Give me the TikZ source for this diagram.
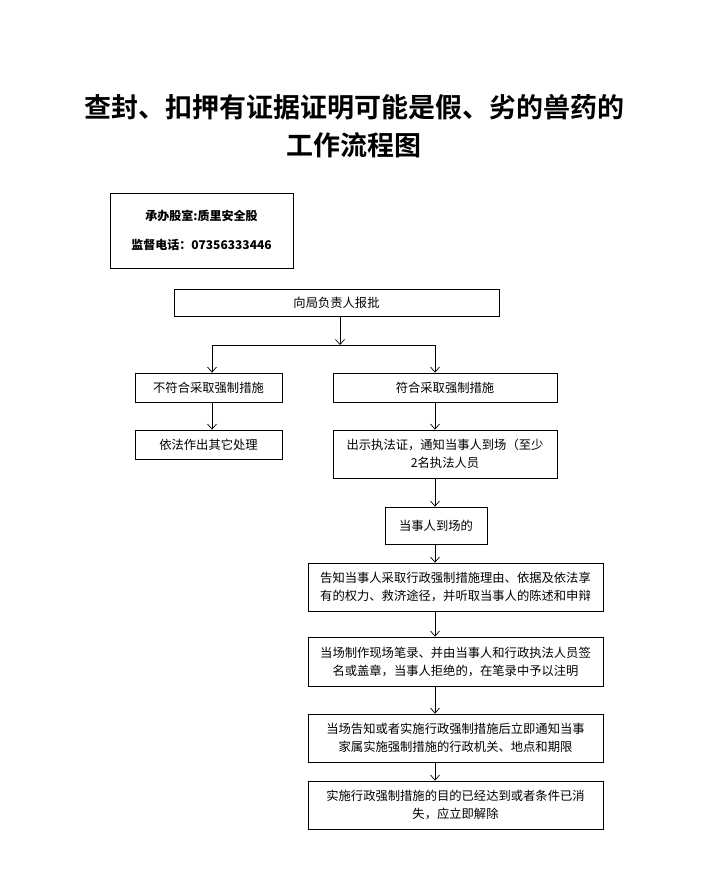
\documentclass[tikz,border=0pt]{standalone}
\usepackage{fontspec}
\setmainfont{Noto Sans CJK SC}
\newfontfamily\titlefont{Noto Sans CJK SC Bold}
\usetikzlibrary{arrows.meta}
\tikzset{
  stepbox/.style={draw, line width=0.8pt, rectangle, minimum height=29pt, align=center, font=\fontsize{12.3}{18}\selectfont, inner sep=1pt},
  arr/.style={line width=0.7pt, -{Straight Barb[length=5pt,width=9pt]}}
}
\begin{document}
\begin{tikzpicture}[x=1pt, y=-1pt]
				\useasboundingbox[fill=white] (0,0) rectangle (724,888);
				\node[font=\titlefont\fontsize{27}{30}\selectfont] (T1)at(354, 107) {查封、扣押有证据证明可能是假、劣的兽药的};
				\node[font=\titlefont\fontsize{27}{30}\selectfont] (T2)at(354, 145) {工作流程图};
				\node[stepbox, minimum width=183pt, minimum height=75pt, font=\bfseries\fontsize{12}{29}\selectfont] (I)at(201.5, 230.5) {承办股室:质里安全股\\监督电话：07356333446};
				\node[stepbox, minimum width=325pt, minimum height=27pt] (R)at(336.5, 302.5) {向局负责人报批};
				\node[stepbox, minimum width=147pt] (L1)at(208.5, 387.5) {不符合采取强制措施};
				\node[stepbox, minimum width=147pt] (L2)at(208.5, 444.5) {依法作出其它处理};
				\node[stepbox, minimum width=224pt] (A)at(445, 387.5) {符合采取强制措施};
				\node[stepbox, minimum width=224pt, minimum height=48pt] (B)at(445, 454) {出示执法证，通知当事人到场（至少\\2名执法人员};
				\node[stepbox, minimum width=102pt, minimum height=37pt] (C)at(436, 525.5) {当事人到场的};
				\node[stepbox, minimum width=295pt, minimum height=48pt] (D)at(455.5, 587) {告知当事人采取行政强制措施理由、依据及依法享\\有的权力、救济途径，并听取当事人的陈述和申辩};
				\node[stepbox, minimum width=295pt, minimum height=49pt] (E)at(455.5, 661.5) {当场制作现场笔录、并由当事人和行政执法人员签\\名或盖章，当事人拒绝的，在笔录中予以注明};
				\node[stepbox, minimum width=295pt, minimum height=48pt] (F)at(455.5, 738) {当场告知或者实施行政强制措施后立即通知当事\\家属实施强制措施的行政机关、地点和期限};
				\node[stepbox, minimum width=295pt, minimum height=48pt] (G)at(455.5, 805) {实施行政强制措施的目的已经达到或者条件已消\\失，应立即解除};
				\coordinate (S)at(340, 345);
				\coordinate (SL)at(212, 345);
				\coordinate (SR)at(435, 345);
				\draw[arr] (R.south -| S) -- (S);
				\draw[line width=0.7pt] (SL) -- (SR);
				\draw[arr] (SL) -- (SL |- L1.north);
				\draw[arr] (SR) -- (SR |- A.north);
				\draw[arr] (L1.south -| SL) -- (L2.north -| SL);
				\draw[arr] (A.south -| SR) -- (B.north -| SR);
				\draw[arr] (B.south -| SR) -- (C.north -| SR);
				\draw[arr] (C.south -| SR) -- (D.north -| SR);
				\draw[arr] (D.south -| SR) -- (E.north -| SR);
				\draw[arr] (E.south -| SR) -- (F.north -| SR);
				\draw[arr] (F.south -| SR) -- (G.north -| SR);
			\end{tikzpicture}
\end{document}
